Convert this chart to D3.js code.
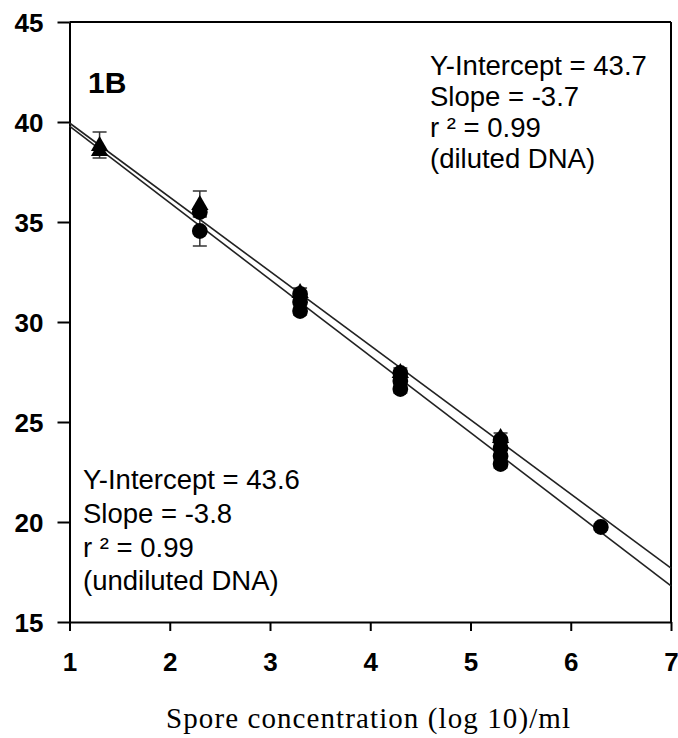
<!DOCTYPE html>
<html>
<head>
<meta charset="utf-8">
<script src="https://cdn.jsdelivr.net/npm/d3@7"></script>
<style>
  html, body { margin: 0; padding: 0; background: #fff; }
  svg { display: block; }
</style>
</head>
<body>
<svg id="chart" width="678" height="738"></svg>
<script>
// ---- data ----
const xTicks = [1, 2, 3, 4, 5, 6, 7];
const yTicks = [15, 20, 25, 30, 35, 40, 45];

// diluted DNA (triangles)
const dilutedX   = [1.3, 2.3, 3.3, 4.3, 5.3];
const dilutedY1  = [38.85, 35.9, 31.5, 27.5, 24.25];
const dilutedErr = [0.65, 0.65, 0.2, 0.2, 0.2];
const dilutedY2  = [38.6, null, null, null, null];

// undiluted DNA (circles), replicate sets
const undilutedX   = [2.3, 3.3, 4.3, 5.3, 6.3];
const undilutedY1  = [34.55, 30.55, 26.65, 22.9, 19.75];
const undilutedErr = [0.75, 0.2, 0.2, 0.2, 0.15];
const undilutedY2  = [35.5, 31.0, 27.05, 23.3, null];
const undilutedY3  = [null, 31.4, 27.45, 23.7, null];
const undilutedY4  = [null, null, null, 24.1, null];

// regression lines: [intercept, slope]
const fitDiluted   = [43.66, -3.71];
const fitUndiluted = [43.62, -3.83];

const annotDiluted   = ["Y-Intercept = 43.7", "Slope = -3.7", "r \u00B2 = 0.99", "(diluted DNA)"];
const annotUndiluted = ["Y-Intercept = 43.6", "Slope = -3.8", "r \u00B2 = 0.99", "(undiluted DNA)"];
const panelLabel = "1B";
const xTitle = "Spore concentration (log 10)/ml";

// ---- layout ----
const svg = d3.select("#chart");
const pLeft = 69.5, pRight = 671, pTop = 22, pBottom = 622;
const x = d3.scaleLinear().domain([1, 7]).range([pLeft, pRight]);
const y = d3.scaleLinear().domain([15, 45]).range([pBottom, pTop]);

const sans = "'Liberation Sans', Arial, sans-serif";
const serif = "'Liberation Serif', 'Times New Roman', serif";

// frame (top + right)
svg.append("line").attr("x1", pLeft).attr("x2", pRight).attr("y1", pTop).attr("y2", pTop)
  .attr("stroke", "#000").attr("stroke-width", 2);
svg.append("line").attr("x1", pRight).attr("x2", pRight).attr("y1", pTop).attr("y2", pBottom)
  .attr("stroke", "#000").attr("stroke-width", 2);

// axes
const xAxis = d3.axisBottom(x).tickValues(xTicks).tickFormat(d3.format("d")).tickSizeInner(9).tickSizeOuter(0).tickPadding(22);
const gx = svg.append("g").attr("transform", `translate(0,${pBottom})`).call(xAxis);
const yAxis = d3.axisLeft(y).tickValues(yTicks).tickFormat(d3.format("d")).tickSizeInner(12).tickSizeOuter(0).tickPadding(14);
const gy = svg.append("g").attr("transform", `translate(${pLeft},0)`).call(yAxis);

[gx, gy].forEach(g => {
  g.select(".domain").attr("stroke", "#000").attr("stroke-width", 2);
  g.selectAll(".tick line").attr("stroke", "#000").attr("stroke-width", 2);
  g.selectAll(".tick text").attr("fill", "#000").attr("font-family", sans)
    .attr("font-weight", "bold").attr("font-size", 26);
});
gx.selectAll(".tick text").attr("dy", "0.71em");
gy.selectAll(".tick text").attr("dy", "0.36em");

// regression lines
const lineG = svg.append("g");
[fitDiluted, fitUndiluted].forEach(f => {
  lineG.append("line")
    .attr("x1", x(1)).attr("y1", y(f[0] + f[1] * 1))
    .attr("x2", x(7)).attr("y2", y(f[0] + f[1] * 7))
    .attr("stroke", "#222").attr("stroke-width", 1.6);
});

// error bars
function errorBars(xs, ys, es) {
  const g = svg.append("g").attr("stroke", "#333").attr("stroke-width", 1.5);
  xs.forEach((xv, i) => {
    const e = es[i], yv = ys[i];
    g.append("line").attr("x1", x(xv)).attr("x2", x(xv)).attr("y1", y(yv + e)).attr("y2", y(yv - e));
    [yv + e, yv - e].forEach(v => {
      g.append("line").attr("x1", x(xv) - 7).attr("x2", x(xv) + 7).attr("y1", y(v)).attr("y2", y(v));
    });
  });
}
errorBars(dilutedX, dilutedY1, dilutedErr);
errorBars(undilutedX, undilutedY1, undilutedErr);

// markers
const tri = d3.symbol().type(d3.symbolTriangle).size(130);
function triangles(xs, ys) {
  svg.append("g").selectAll("path").data(xs.map((d, i) => [d, ys[i]]).filter(d => d[1] != null))
    .join("path").attr("d", tri)
    .attr("transform", d => `translate(${x(d[0])},${y(d[1]) + 1})`)
    .attr("fill", "#000");
}
function circles(xs, ys) {
  svg.append("g").selectAll("circle").data(xs.map((d, i) => [d, ys[i]]).filter(d => d[1] != null))
    .join("circle").attr("cx", d => x(d[0])).attr("cy", d => y(d[1])).attr("r", 7.9)
    .attr("fill", "#000");
}
circles(undilutedX, undilutedY4);
circles(undilutedX, undilutedY3);
circles(undilutedX, undilutedY2);
circles(undilutedX, undilutedY1);
triangles(dilutedX, dilutedY2);
triangles(dilutedX, dilutedY1);

// panel label
svg.append("text").attr("x", 88).attr("y", 93).text(panelLabel)
  .attr("font-family", sans).attr("font-weight", "bold").attr("font-size", 30).attr("fill", "#000");

// annotations
function annot(lines, x0, y0, dy) {
  const t = svg.append("text").attr("font-family", sans).attr("font-size", 27.5).attr("fill", "#000");
  lines.forEach((s, i) => t.append("tspan").attr("x", x0).attr("y", y0 + i * dy).text(s));
}
annot(annotDiluted, 430, 75, 31);
annot(annotUndiluted, 83, 489, 33.8);

// x title
svg.append("text").attr("x", 368).attr("y", 728).attr("text-anchor", "middle")
  .attr("font-family", serif).attr("font-size", 29).attr("fill", "#000")
  .attr("textLength", 404).attr("lengthAdjust", "spacing")
  .text(xTitle);
</script>
</body>
</html>
